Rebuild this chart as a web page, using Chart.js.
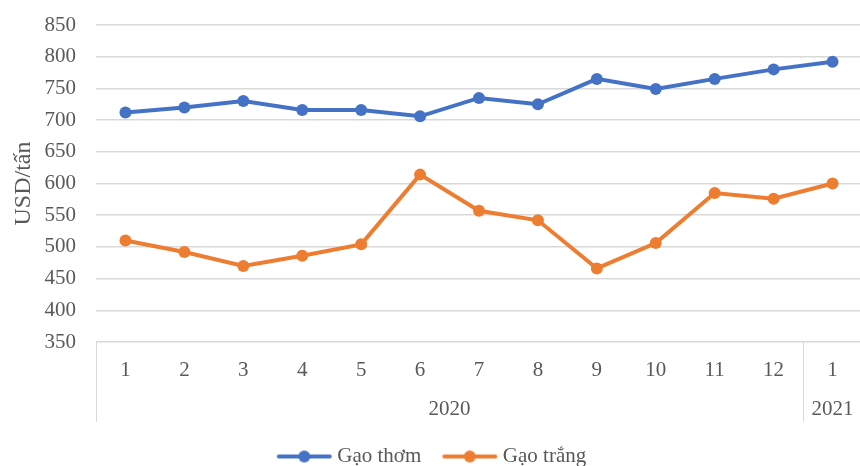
<!DOCTYPE html>
<html>
<head>
<meta charset="utf-8">
<script src="https://cdn.jsdelivr.net/npm/chart.js@4/dist/chart.umd.min.js"></script>
<style>
  html, body { margin: 0; padding: 0; background: #fff; overflow: hidden; width: 860px; height: 466px; }
  #c { display: block; }
</style>
</head>
<body>
<canvas id="c" width="868" height="466" style="width:868px;height:466px"></canvas>
<script>
// Monthly rice export prices, Jan 2020 – Jan 2021
const months = ['1', '2', '3', '4', '5', '6', '7', '8', '9', '10', '11', '12', '1'];
const yearLabels = ['2020', '2021'];
const yearSpans = [12, 1];
const seriesNames = ['Gạo thơm', 'Gạo trắng'];
const gaoThom = [712, 720, 730, 716, 716, 706, 735, 725, 765, 749, 765, 780, 792];
const gaoTrang = [510, 492, 470, 486, 504, 614, 557, 542, 466, 506, 585, 576, 600];
const yTicks = { min: 350, max: 850, step: 50 };
const colors = ['#4472C4', '#ED7D31'];

const FONT = "'Liberation Serif', 'Times New Roman', serif";
const TEXT = '#595959';
const GRID = '#D9D9D9';
const PLOT_BOTTOM = 342;
const PAD_BOTTOM = -11;

// Legend marker: a short line with a dot, as used for line-with-marker series
function makeMarker(color) {
  const cv = document.createElement('canvas');
  cv.width = 57; cv.height = 14;
  const g = cv.getContext('2d');
  g.strokeStyle = color; g.lineWidth = 4; g.lineCap = 'round';
  g.beginPath(); g.moveTo(3, 7); g.lineTo(54, 7); g.stroke();
  g.fillStyle = color;
  g.beginPath(); g.arc(28.5, 7, 6, 0, Math.PI * 2); g.fill();
  return cv;
}
const markers = colors.map(makeMarker);

// Second-level category axis: year groups with separators
const yearAxis = {
  id: 'yearAxis',
  afterDraw(chart) {
    const x = chart.scales.x, ctx = chart.ctx;
    const half = (x.getPixelForValue(1) - x.getPixelForValue(0)) / 2;
    const top = chart.chartArea.bottom, bottom = top + 80;
    ctx.save();
    ctx.strokeStyle = GRID; ctx.lineWidth = 1;
    ctx.fillStyle = TEXT;
    ctx.font = '21px ' + FONT;
    ctx.textAlign = 'center'; ctx.textBaseline = 'middle';
    let start = 0;
    const edges = [x.getPixelForValue(0) - half];
    yearLabels.forEach((lab, i) => {
      const end = start + yearSpans[i] - 1;
      const x0 = x.getPixelForValue(start) - half;
      const x1 = x.getPixelForValue(end) + half;
      edges.push(x1);
      ctx.fillText(lab, (x0 + x1) / 2, top + 67);
      start = end + 1;
    });
    edges.forEach(px => {
      const p = Math.round(px) + 0.5;
      ctx.beginPath(); ctx.moveTo(p, top); ctx.lineTo(p, bottom); ctx.stroke();
    });
    ctx.restore();
  }
};

new Chart(document.getElementById('c'), {
  type: 'line',
  data: {
    labels: months,
    datasets: [gaoThom, gaoTrang].map((d, i) => ({
      label: seriesNames[i],
      data: d,
      borderColor: colors[i],
      backgroundColor: colors[i],
      borderWidth: 4,
      pointRadius: 6,
      pointHoverRadius: 6,
      pointBorderWidth: 0,
      tension: 0
    }))
  },
  options: {
    responsive: false,
    animation: false,
    layout: { padding: { top: 25, right: 0, left: 0, bottom: PAD_BOTTOM } },
    plugins: {
      tooltip: { enabled: false },
      legend: {
        position: 'bottom',
        labels: {
          usePointStyle: true,
          pointStyleWidth: 45,
          padding: 26,
          color: TEXT,
          font: { family: FONT, size: 21 },
          generateLabels(chart) {
            const items = Chart.defaults.plugins.legend.labels.generateLabels(chart);
            items.forEach((it, i) => { it.pointStyle = markers[i]; });
            return items;
          }
        }
      }
    },
    scales: {
      x: {
        offset: true,
        grid: { display: false, drawTicks: false },
        border: { display: false },
        ticks: { color: TEXT, font: { family: FONT, size: 21 }, padding: 16, maxRotation: 0, autoSkip: false },
        afterFit(s) { s.height = s.chart.height - PLOT_BOTTOM - s.chart.legend.height - PAD_BOTTOM; }
      },
      y: {
        min: yTicks.min, max: yTicks.max,
        grid: { color: GRID, lineWidth: 1.5, drawTicks: true, tickLength: 12, tickColor: 'rgba(0,0,0,0)' },
        border: { display: false },
        ticks: { stepSize: yTicks.step, color: TEXT, font: { family: FONT, size: 21 }, padding: 8 },
        title: { display: true, text: 'USD/tấn', color: TEXT, font: { family: FONT, size: 24 }, padding: { top: 9, bottom: 0 } },
        afterFit(s) { s.width = 96; }
      }
    }
  },
  plugins: [yearAxis]
});
</script>
</body>
</html>
